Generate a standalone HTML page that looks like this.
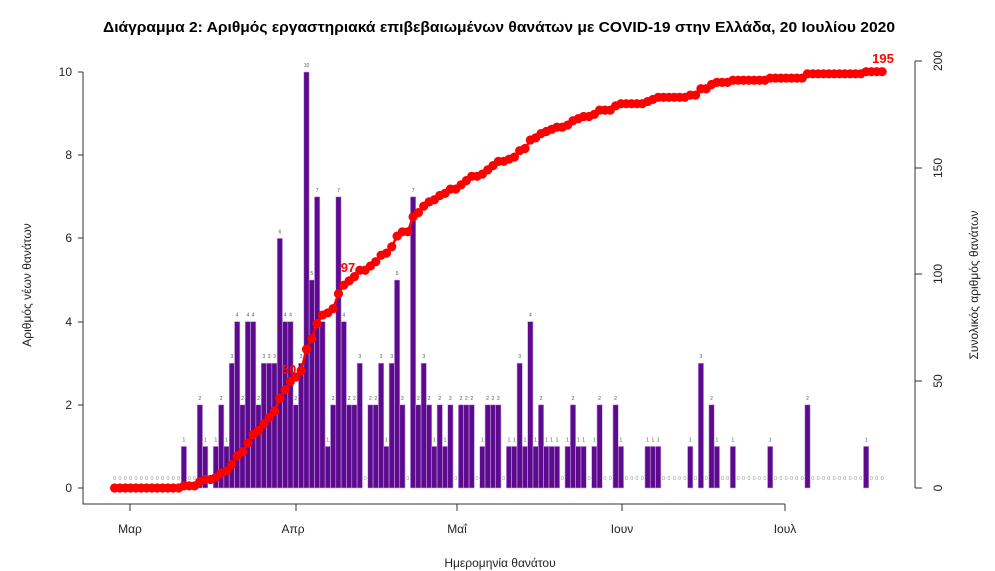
<!DOCTYPE html>
<html><head><meta charset="utf-8"><style>
body{margin:0;background:#fff;}
svg{display:block;font-family:"Liberation Sans","DejaVu Sans",sans-serif;}
</style></head><body>
<svg id="s" width="995" height="571" viewBox="0 0 995 571" xmlns="http://www.w3.org/2000/svg">
<rect width="995" height="571" fill="#fff"/>
<text x="499" y="32" text-anchor="middle" font-size="14.5" font-weight="bold" fill="#000" textLength="792" lengthAdjust="spacingAndGlyphs">Διάγραμμα 2: Αριθμός εργαστηριακά επιβεβαιωμένων θανάτων με COVID-19 στην Ελλάδα, 20 Ιουλίου 2020</text>
<g id="bars"></g>
<g id="line"></g>
<g stroke="#333" stroke-width="1" fill="none">
<path d="M83 72V504H785"/>
<path d="M78 488H83M78 405H83M78 322H83M78 238H83M78 155H83M78 72H83"/>
<path d="M130 504V511M296 504V511M457 504V511M622 504V511M785 504V511"/>
<path d="M915 61V488M915 488H922M915 381H922M915 274H922M915 168H922M915 61H922"/>
</g>
<g font-size="12" fill="#222" text-anchor="end">
<text x="72" y="492">0</text><text x="72" y="409">2</text><text x="72" y="326">4</text><text x="72" y="242">6</text><text x="72" y="159">8</text><text x="72" y="76">10</text>
</g>
<g font-size="12" fill="#222" text-anchor="middle">
<text transform="translate(942,488) rotate(-90)">0</text>
<text transform="translate(942,381) rotate(-90)">50</text>
<text transform="translate(942,274) rotate(-90)">100</text>
<text transform="translate(942,168) rotate(-90)">150</text>
<text transform="translate(942,61) rotate(-90)">200</text>
<text x="130" y="533">Μαρ</text><text x="293" y="533">Απρ</text><text x="457" y="533">Μαΐ</text><text x="622" y="533">Ιουν</text><text x="785" y="533">Ιουλ</text>
<text x="500" y="567">Ημερομηνία θανάτου</text>
<text transform="translate(31,285) rotate(-90)">Αριθμός νέων θανάτων</text>
<text transform="translate(978,285) rotate(-90)">Συνολικός αριθμός θανάτων</text>
</g>
<g id="lab" font-size="13" font-weight="bold" fill="#ff0000" text-anchor="middle">
<text x="289" y="374">50</text><text x="348" y="272">97</text><text x="883" y="63">195</text>
</g>
</svg>
<script>
var d=[0,0,0,0,0,0,0,0,0,0,0,0,0,1,0,0,2,1,0,1,2,1,3,4,2,4,4,2,3,3,3,6,4,4,2,3,10,5,7,4,1,2,7,4,2,2,3,0,2,2,3,1,3,5,2,0,7,2,3,2,1,2,1,2,0,2,2,2,0,1,2,2,2,0,1,1,3,1,4,1,2,1,1,1,0,1,2,1,1,0,1,2,0,0,2,1,0,0,0,0,1,1,1,0,0,0,0,0,1,0,3,0,2,1,0,0,1,0,0,0,0,0,0,1,0,0,0,0,0,0,2,0,0,0,0,0,0,0,0,0,0,1,0,0,0];
var ns="http://www.w3.org/2000/svg",b=document.getElementById("bars"),l=document.getElementById("line");
function el(p,t,a,tx){var e=document.createElementNS(ns,t);for(var k in a)e.setAttribute(k,a[k]);if(tx!=null)e.textContent=tx;p.appendChild(e);return e;}
var c=0,pts=[],w=5.33;
for(var i=0;i<d.length;i++){var x=114.6+w*i,v=d[i];c+=v;
 if(v>0){var h=v*41.6;el(b,"rect",{x:x-w/2,y:488-h,width:w,height:h,fill:"#5c0a8e",stroke:"#c7a6e0","stroke-width":"0.6"});
  el(b,"text",{x:x,y:488-h-5,"font-size":"5","text-anchor":"middle",fill:"#555"},String(v));}
 else el(b,"text",{x:x,y:480,"font-size":"5.5","text-anchor":"middle",fill:"#999"},"0");
 pts.push([x,488-c*2.135]);}
el(l,"polyline",{points:pts.map(function(p){return p.join(",")}).join(" "),fill:"none",stroke:"#ff0000","stroke-width":"2.5"});
pts.forEach(function(p){el(l,"circle",{cx:p[0],cy:p[1],r:4.6,fill:"#ff0000"});});
</script>
</body></html>
